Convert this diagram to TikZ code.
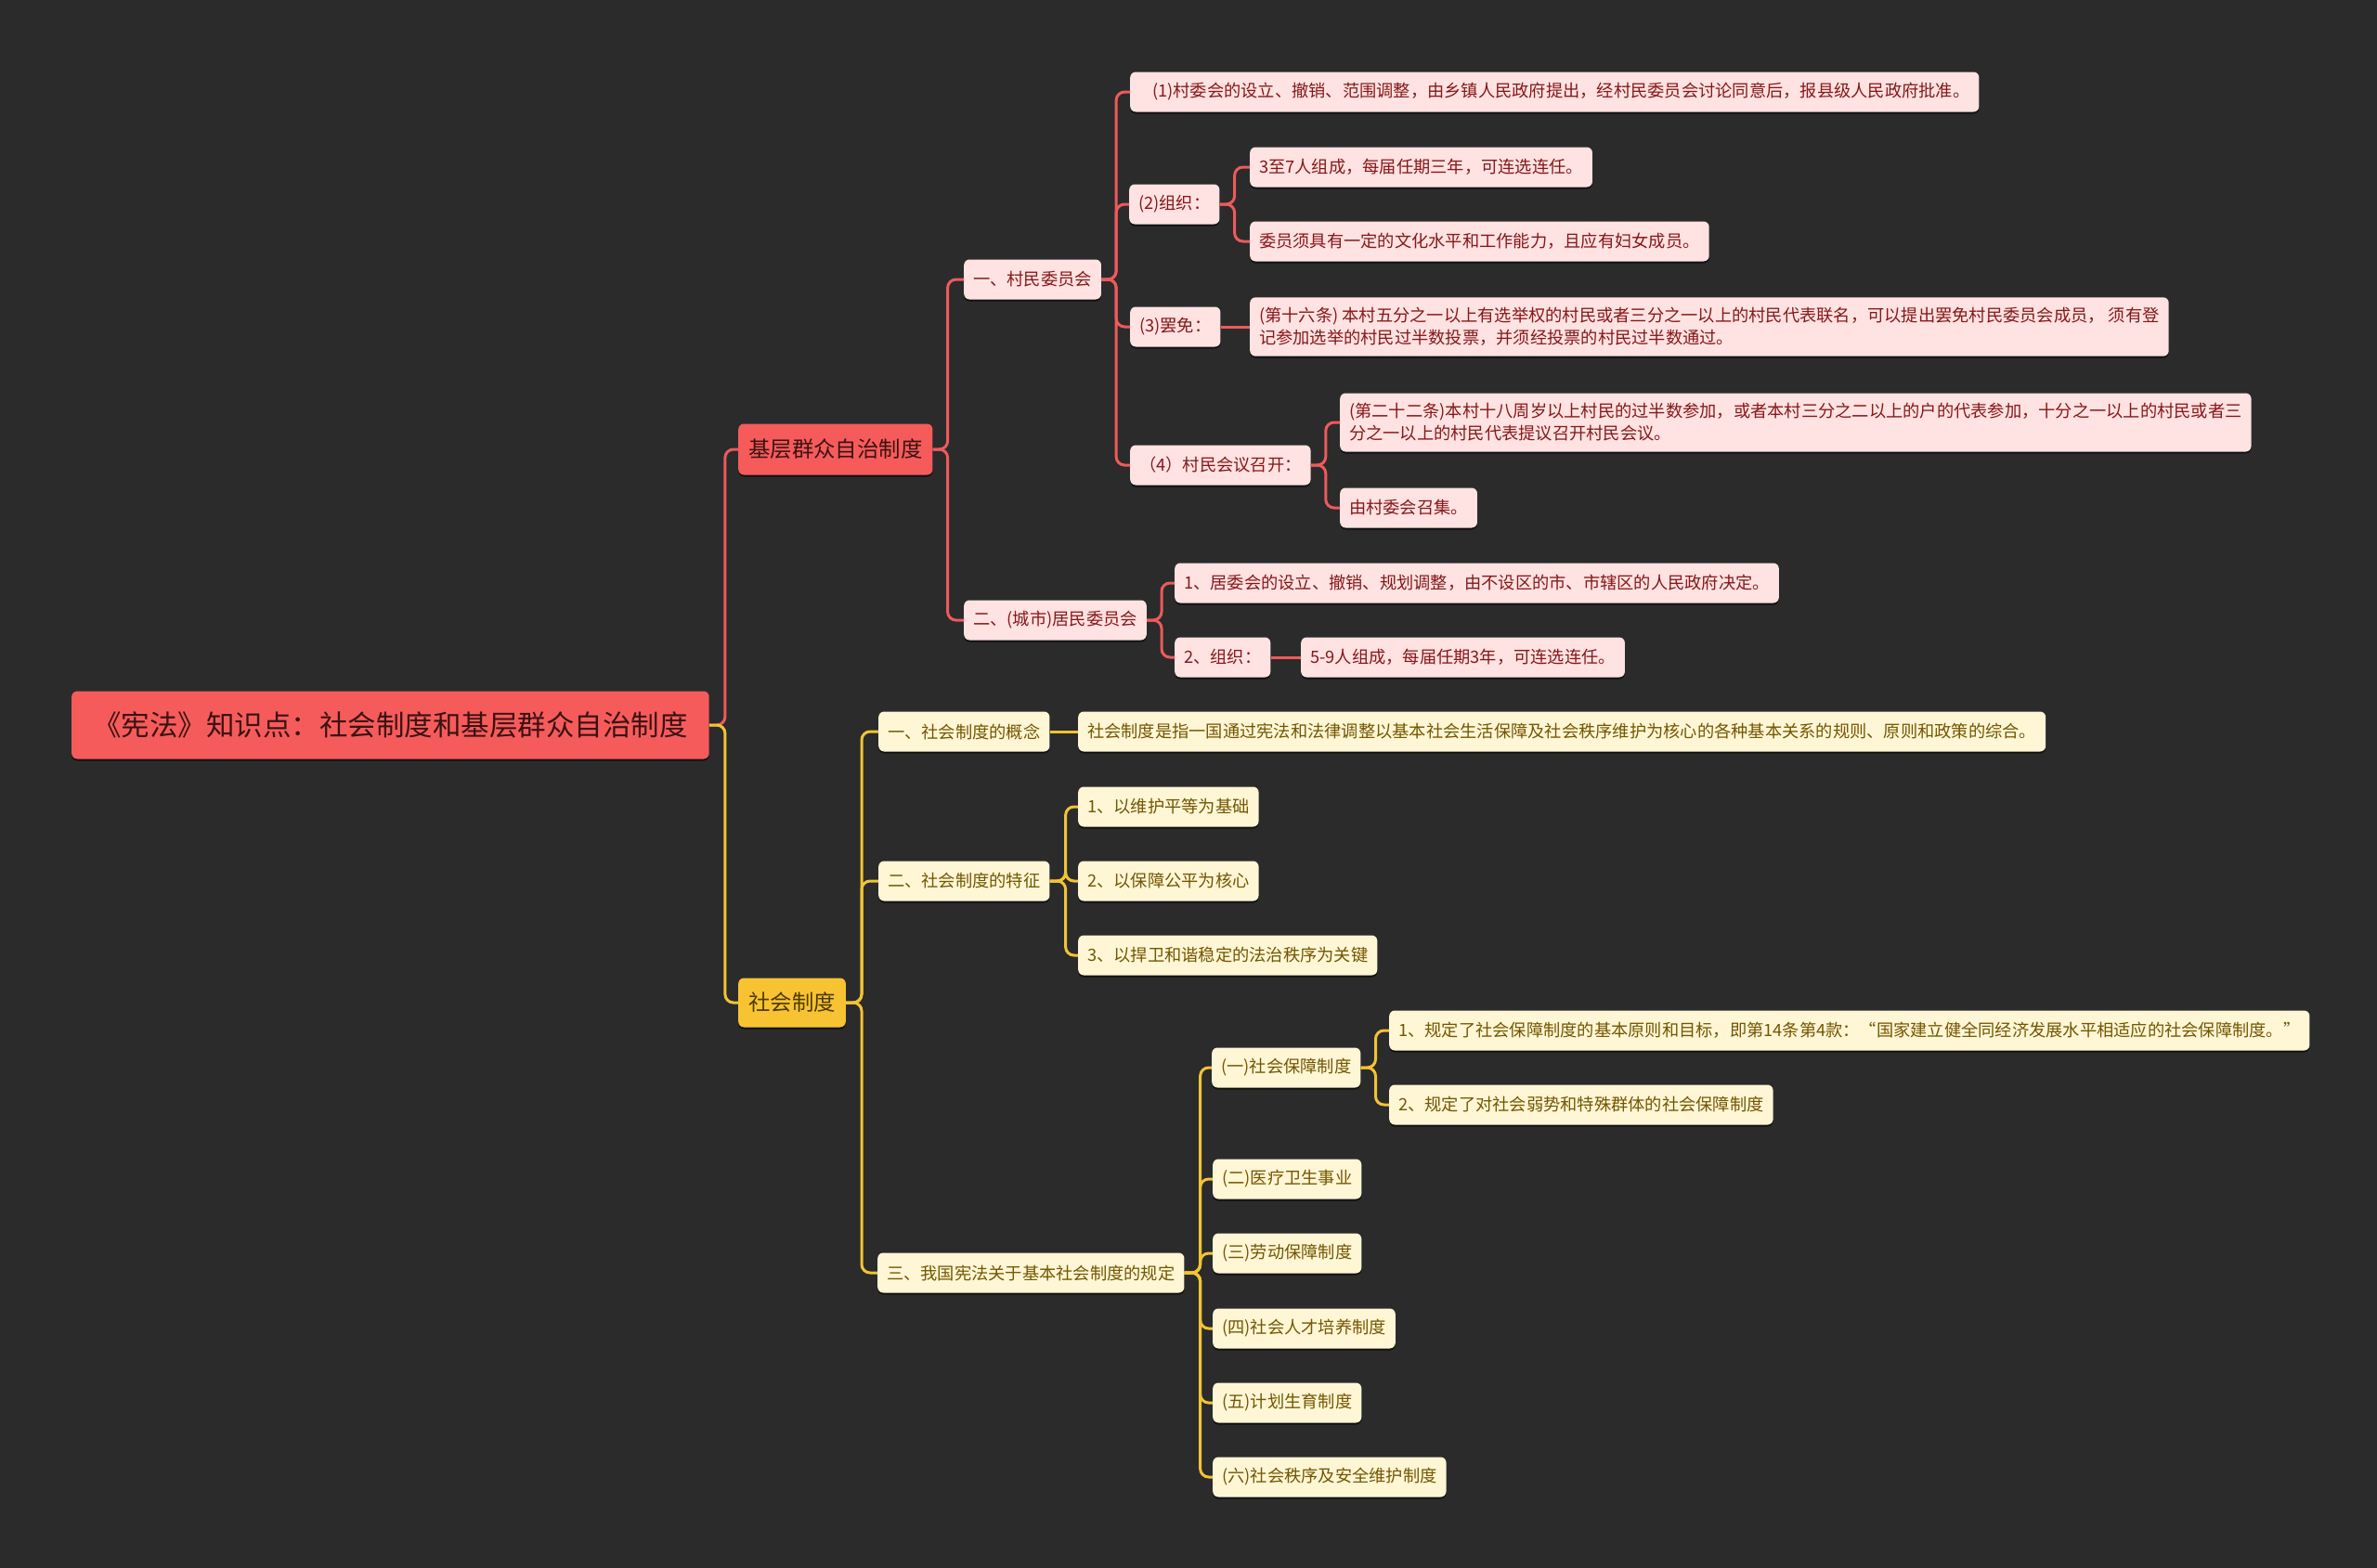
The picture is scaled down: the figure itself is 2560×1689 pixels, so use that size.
\documentclass[tikz,border=0pt]{standalone}
\usepackage{fontspec}
\setmainfont{Noto Sans CJK SC}
\usepackage{xcolor}
\usepackage{tikz}
\usetikzlibrary{shadows}

\definecolor{bgdark}{HTML}{2B2B2B}
\definecolor{rootred}{HTML}{F65B5B}
\definecolor{rootink}{HTML}{3A1212}
\definecolor{redleaf}{HTML}{FFE2E2}
\definecolor{redink}{HTML}{851818}
\definecolor{redline}{HTML}{EE5A5C}
\definecolor{goldfill}{HTML}{F8C332}
\definecolor{goldink}{HTML}{4E3A00}
\definecolor{goldleaf}{HTML}{FFF6D6}
\definecolor{goldtext}{HTML}{735600}
\definecolor{goldline}{HTML}{F2C335}

\tikzset{
  box/.style={anchor=west, rounded corners=6pt, inner ysep=0pt, align=left,
    drop shadow={shadow xshift=0pt, shadow yshift=-2pt, opacity=0.6, fill=black}},
  rootbox/.style={box, fill=rootred, text=rootink, font=\fontsize{30.5}{36}\selectfont,
    inner xsep=23pt, minimum height=73pt},
  redmain/.style={box, fill=rootred, text=rootink, font=\fontsize{23.4}{28}\selectfont,
    inner xsep=11pt, minimum height=55pt},
  goldmain/.style={box, fill=goldfill, text=goldink, font=\fontsize{23.4}{28}\selectfont,
    inner xsep=11pt, minimum height=53pt},
  redsub/.style={box, fill=redleaf, text=redink, font=\fontsize{18.25}{24}\selectfont,
    inner xsep=10pt, minimum height=43pt},
  goldsub/.style={box, fill=goldleaf, text=goldtext, font=\fontsize{18.25}{24}\selectfont,
    inner xsep=10pt, minimum height=43pt},
  twoline/.style={inner ysep=11pt},
  redlink/.style={draw=redline, line width=3pt, rounded corners=9pt},
  goldlink/.style={draw=goldline, line width=3pt, rounded corners=9pt}
}

\begin{document}
\begin{tikzpicture}[x=1pt,y=-1pt]
  \fill[bgdark] (0,0) rectangle (2560,1689);
  \useasboundingbox (0,0) rectangle (2560,1689);

  \node[rootbox] (root) at (77,781) {《宪法》知识点：社会制度和基层群众自治制度};
  \node[redmain] (jc) at (795,484) {基层群众自治制度};
  \node[goldmain] (sh) at (795,1080) {社会制度};

  % 基层群众自治制度
  \node[redsub] (cw) at (1038,301) {一、村民委员会};
  \node[redsub] (cw1) at (1217,99) {\hspace*{14pt}(1)村委会的设立、撤销、范围调整，由乡镇人民政府提出，经村民委员会讨论同意后，报县级人民政府批准。};
  \node[redsub] (cw2) at (1216,220) {(2)组织：};
  \node[redsub] (cw2a) at (1346,180) {3至7人组成，每届任期三年，可连选连任。};
  \node[redsub] (cw2b) at (1346,260) {委员须具有一定的文化水平和工作能力，且应有妇女成员。};
  \node[redsub] (cw3) at (1217,352) {(3)罢免：};
  \node[redsub,twoline] (cw3a) at (1346,352) {(第十六条) 本村五分之一以上有选举权的村民或者三分之一以上的村民代表联名，可以提出罢免村民委员会成员， 须有登\\记参加选举的村民过半数投票，并须经投票的村民过半数通过。};
  \node[redsub] (cw4) at (1217,501) {（4）村民会议召开：};
  \node[redsub,twoline] (cw4a) at (1443,455) {(第二十二条)本村十八周岁以上村民的过半数参加，或者本村三分之二以上的户的代表参加，十分之一以上的村民或者三\\分之一以上的村民代表提议召开村民会议。};
  \node[redsub] (cw4b) at (1443,547) {由村委会召集。};
  \node[redsub] (jw) at (1038,668) {二、(城市)居民委员会};
  \node[redsub] (jw1) at (1265,628) {1、居委会的设立、撤销、规划调整，由不设区的市、市辖区的人民政府决定。};
  \node[redsub] (jw2) at (1265,708) {2、组织：};
  \node[redsub] (jw2a) at (1401,708) {5-9人组成，每届任期3年，可连选连任。};

  % 社会制度
  \node[goldsub] (s1) at (946,788) {一、社会制度的概念};
  \node[goldsub] (s1a) at (1161,788) {社会制度是指一国通过宪法和法律调整以基本社会生活保障及社会秩序维护为核心的各种基本关系的规则、原则和政策的综合。};
  \node[goldsub] (s2) at (946,949) {二、社会制度的特征};
  \node[goldsub] (s2a) at (1161,869) {1、以维护平等为基础};
  \node[goldsub] (s2b) at (1161,949) {2、以保障公平为核心};
  \node[goldsub] (s2c) at (1161,1029) {3、以捍卫和谐稳定的法治秩序为关键};
  \node[goldsub] (s3) at (945,1371) {三、我国宪法关于基本社会制度的规定};
  \node[goldsub] (s3a) at (1305,1150) {(一)社会保障制度};
  \node[goldsub] (s3a1) at (1496,1110) {1、规定了社会保障制度的基本原则和目标，即第14条第4款：“国家建立健全同经济发展水平相适应的社会保障制度。”};
  \node[goldsub] (s3a2) at (1496,1190) {2、规定了对社会弱势和特殊群体的社会保障制度};
  \node[goldsub] (s3b) at (1306,1270) {(二)医疗卫生事业};
  \node[goldsub] (s3c) at (1306,1350) {(三)劳动保障制度};
  \node[goldsub] (s3d) at (1306,1431) {(四)社会人才培养制度};
  \node[goldsub] (s3e) at (1306,1511) {(五)计划生育制度};
  \node[goldsub] (s3f) at (1306,1591) {(六)社会秩序及安全维护制度};

  \draw[redlink] (root.east) -- ++(17,0) |- (jc.west);
  \draw[goldlink] (root.east) -- ++(17,0) |- (sh.west);

  \draw[redlink] (jc.east) -- ++(16,0) |- (cw.west);
  \draw[redlink] (jc.east) -- ++(16,0) |- (jw.west);
  \draw[redlink] (cw.east) -- ++(16,0) |- (cw1.west);
  \draw[redlink] (cw.east) -- ++(16,0) |- (cw2.west);
  \draw[redlink] (cw.east) -- ++(16,0) |- (cw3.west);
  \draw[redlink] (cw.east) -- ++(16,0) |- (cw4.west);
  \draw[redlink] (cw2.east) -- ++(16,0) |- (cw2a.west);
  \draw[redlink] (cw2.east) -- ++(16,0) |- (cw2b.west);
  \draw[redlink] (cw3.east) -- (cw3a.west);
  \draw[redlink] (cw4.east) -- ++(16,0) |- (cw4a.west);
  \draw[redlink] (cw4.east) -- ++(16,0) |- (cw4b.west);
  \draw[redlink] (jw.east) -- ++(16,0) |- (jw1.west);
  \draw[redlink] (jw.east) -- ++(16,0) |- (jw2.west);
  \draw[redlink] (jw2.east) -- (jw2a.west);

  \draw[goldlink] (sh.east) -- ++(17,0) |- (s1.west);
  \draw[goldlink] (sh.east) -- ++(17,0) |- (s2.west);
  \draw[goldlink] (sh.east) -- ++(17,0) |- (s3.west);
  \draw[goldlink] (s1.east) -- (s1a.west);
  \draw[goldlink] (s2.east) -- ++(17,0) |- (s2a.west);
  \draw[goldlink] (s2.east) -- ++(17,0) |- (s2b.west);
  \draw[goldlink] (s2.east) -- ++(17,0) |- (s2c.west);
  \draw[goldlink] (s3.east) -- ++(17,0) |- (s3a.west);
  \draw[goldlink] (s3.east) -- ++(17,0) |- (s3b.west);
  \draw[goldlink] (s3.east) -- ++(17,0) |- (s3c.west);
  \draw[goldlink] (s3.east) -- ++(17,0) |- (s3d.west);
  \draw[goldlink] (s3.east) -- ++(17,0) |- (s3e.west);
  \draw[goldlink] (s3.east) -- ++(17,0) |- (s3f.west);
  \draw[goldlink] (s3a.east) -- ++(16,0) |- (s3a1.west);
  \draw[goldlink] (s3a.east) -- ++(16,0) |- (s3a2.west);
\end{tikzpicture}
\end{document}
